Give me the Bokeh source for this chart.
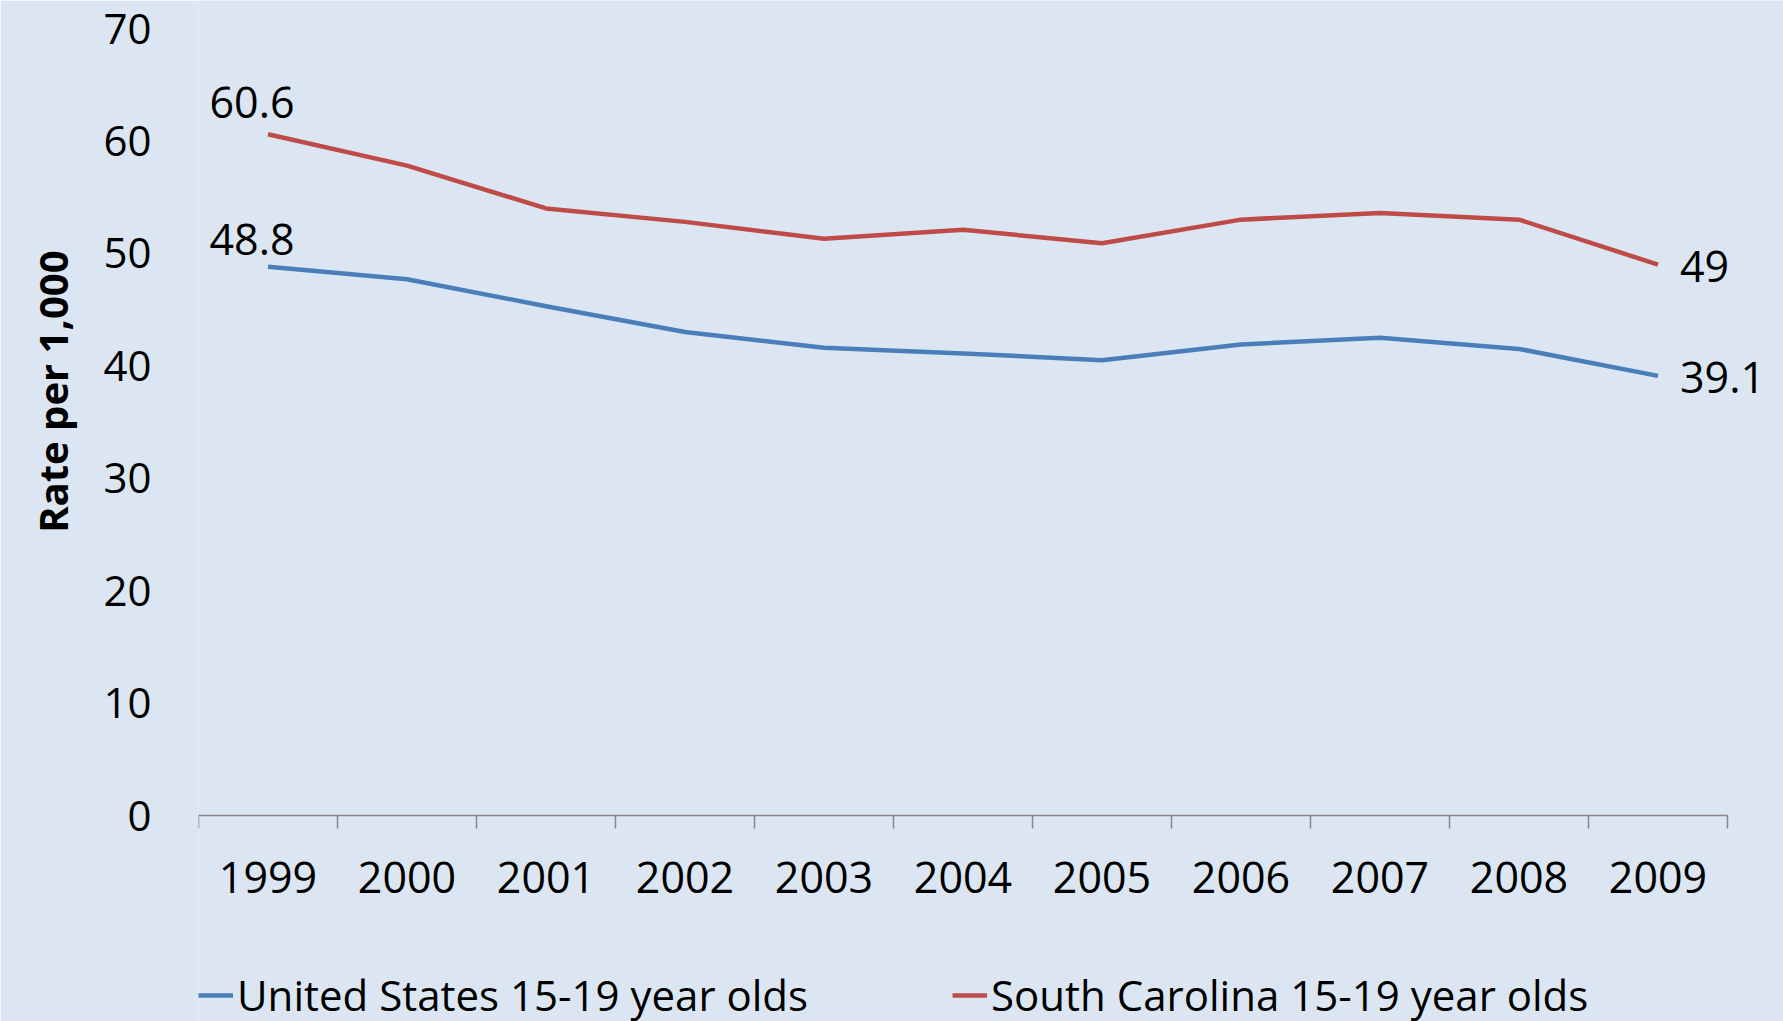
from bokeh.plotting import figure
from bokeh.models import Range1d, FixedTicker, Label, Legend, LegendItem, Title
from bokeh.embed import file_html
from bokeh.resources import INLINE

years = ["1999", "2000", "2001", "2002", "2003", "2004", "2005", "2006", "2007", "2008", "2009"]
us_rate = [48.8, 47.7, 45.3, 43.0, 41.6, 41.1, 40.5, 41.9, 42.5, 41.5, 39.1]
sc_rate = [60.6, 57.8, 54.0, 52.8, 51.3, 52.1, 50.9, 53.0, 53.6, 53.0, 49.0]
y_ticks = [0, 10, 20, 30, 40, 50, 60, 70]
series_names = ["United States 15-19 year olds", "South Carolina 15-19 year olds"]
y_title = "Rate per 1,000"

BG = "#dce6f2"
BLUE = "#4a7ebb"
RED = "#be4b48"
FONT = "Open Sans"

# pixel geometry of the plotting area
W, H = 1783, 1021
LEFT, AXIS_RIGHT, TOP, BOTTOM = 198, 1727, 28, 815
Y_MAX = 70

xs = list(range(len(years)))
n = len(years)
px_per_x = (AXIS_RIGHT - LEFT) / n
x_end = (n - 0.5) + (W - AXIS_RIGHT) / px_per_x
px_per_y = (BOTTOM - TOP) / Y_MAX
y_start = -(H - BOTTOM) / px_per_y
y_end = Y_MAX + TOP / px_per_y

p = figure(width=W, height=H, output_backend="svg", toolbar_location=None,
           x_range=Range1d(-0.5, x_end), y_range=Range1d(y_start, y_end),
           min_border_left=LEFT, min_border_right=0, min_border_top=0,
           min_border_bottom=0)
p.background_fill_color = BG
p.border_fill_color = BG
p.outline_line_color = None
p.xgrid.visible = False
p.ygrid.visible = False

r_us = p.line(xs, us_rate, line_color=BLUE, line_width=4.5)
r_sc = p.line(xs, sc_rate, line_color=RED, line_width=4.5)

# x axis, drawn at y = 0
xa = p.xaxis[0]
xa.fixed_location = 0
xa.bounds = (-0.5, n - 0.5)
xa.ticker = FixedTicker(ticks=xs, minor_ticks=[i - 0.5 for i in range(n + 1)])
xa.major_label_overrides = {i: y for i, y in enumerate(years)}
xa.major_tick_out = 0
xa.major_tick_in = 0
xa.minor_tick_out = 13
xa.minor_tick_in = 0
xa.minor_tick_line_color = "#868686"
xa.minor_tick_line_width = 1.5
xa.axis_line_color = "#868686"
xa.axis_line_width = 1.5
xa.major_label_text_font = FONT
xa.major_label_text_font_size = "43px"
xa.major_label_text_color = "black"
xa.major_label_standoff = 33

# y axis
ya = p.yaxis[0]
ya.ticker = FixedTicker(ticks=y_ticks)
ya.axis_line_color = None
ya.major_tick_line_color = None
ya.minor_tick_line_color = None
ya.major_tick_out = 0
ya.major_tick_in = 0
ya.major_label_text_font = FONT
ya.major_label_text_font_size = "42px"
ya.major_label_text_color = "black"
ya.major_label_standoff = 47

# y axis title (rotated, placed in the left panel)
p.add_layout(Title(text=y_title, align="right", offset=250, vertical_align="middle",
                   standoff=40, text_font=FONT, text_font_size="40px",
                   text_font_style="bold", text_color="black"), "left")

# data labels
lbl_kw = dict(text_font=FONT, text_font_size="43px", text_color="black", text_baseline="middle")
p.add_layout(Label(x=xs[0], y=sc_rate[0], text=f"{sc_rate[0]:g}", x_offset=-16, y_offset=32,
                   text_align="center", **lbl_kw))
p.add_layout(Label(x=xs[0], y=us_rate[0], text=f"{us_rate[0]:g}", x_offset=-16, y_offset=27,
                   text_align="center", **lbl_kw))
p.add_layout(Label(x=xs[-1], y=sc_rate[-1], text=f"{sc_rate[-1]:g}", x_offset=22, y_offset=-2,
                   text_align="left", **lbl_kw))
p.add_layout(Label(x=xs[-1], y=us_rate[-1], text=f"{us_rate[-1]:g}", x_offset=22, y_offset=-2,
                   text_align="left", **lbl_kw))

legend = Legend(items=[LegendItem(label=series_names[0], renderers=[r_us]),
                       LegendItem(label=series_names[1], renderers=[r_sc])],
                location=(0, -2), orientation="horizontal",
                glyph_width=35, glyph_height=20, label_standoff=4, spacing=144,
                padding=0, margin=0, background_fill_alpha=0, border_line_alpha=0,
                label_text_font=FONT, label_text_font_size="42px", label_text_color="black")
p.add_layout(legend, "center")

html = file_html(p, INLINE)
open("out.html", "w").write(html)
